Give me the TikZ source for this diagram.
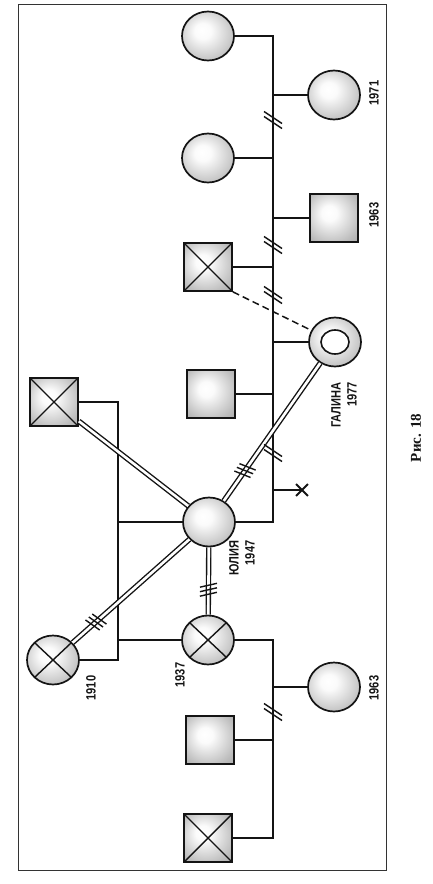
\documentclass[tikz,border=0pt]{standalone}
\usepackage{fontspec}
\newfontfamily\genfont[FakeStretch=0.82]{Liberation Sans}
\newfontfamily\capfont{Liberation Serif}
\usetikzlibrary{shapes.geometric,shapes.misc}
\definecolor{genInk}{HTML}{141414}
\definecolor{genShade}{HTML}{939393}
\definecolor{genFrame}{HTML}{333333}
\pgfdeclareradialshading{genball}{\pgfpoint{-6bp}{6bp}}{color(0bp)=(white); color(8bp)=(white!96!genShade); color(30bp)=(genShade!62); color(50bp)=(genShade)}
\tikzset{
  gen frame/.style={draw=genFrame, line width=1pt},
  gen link/.style={draw=genInk, line width=1.5pt},
  gen bond/.style={draw=genInk, line width=1.4pt, double=white, double distance=2.6pt},
  gen dash/.style={dash pattern=on 7pt off 4pt},
  gen person/.style={draw=genInk, line width=1.7pt, shade, shading=genball, inner sep=0pt},
  gen female/.style={gen person, ellipse, minimum width=52pt, minimum height=49pt},
  gen male/.style={gen person, rectangle, minimum size=48pt},
  gen dead/.style={path picture={
    \draw[genInk, line width=1.4pt] (path picture bounding box.north west) -- (path picture bounding box.south east)
      (path picture bounding box.north east) -- (path picture bounding box.south west);}},
  gen index/.style={path picture={
    \draw[genInk, line width=1.6pt, fill=white] (path picture bounding box.center) ellipse [x radius=14pt, y radius=12pt];}},
  gen loss/.style={cross out, draw=genInk, line width=1.8pt, minimum size=10pt, inner sep=0pt},
  gen label/.style={font=\genfont\bfseries\fontsize{13.5}{16}\selectfont, text=genInk, rotate=90, align=right, inner sep=0pt},
  gen caption/.style={font=\capfont\bfseries\fontsize{15}{17}\selectfont, text=genInk, rotate=90, inner sep=0pt},
  gen cut/.pic={
    \draw[gen link] (-9,-8.5) -- (9,3.5) (-9,-3.5) -- (9,8.5);
  },
  gen triple/.pic={
    \foreach \i in {-4.5,0,4.5}
      \draw[genInk, line width=1.4pt] (\i-2,-8.5) -- (\i+2,8.5);
  },
}

\begin{document}
\begin{tikzpicture}[x=1pt, y=-1pt]
  \useasboundingbox (0,0) rectangle (433,884);
  \draw[gen frame] (18.5,4) rectangle (386.5,870.5);
  % trunk columns
  \coordinate (trunkR) at (273,0);
  \coordinate (trunkL) at (118,0);
  % people
  \node[gen female] (sis1) at (208,36) {};
  \node[gen female] (f1971) at (334,95) {};
  \node[gen female] (sis2) at (208,158) {};
  \node[gen male] (m1963) at (334,218) {};
  \node[gen male, gen dead] (exman) at (208,267) {};
  \node[gen female, gen index] (galina) at (335,342) {};
  \node[gen male] (son) at (211,394) {};
  \node[gen male, gen dead] (grandpa) at (54,402) {};
  \node[gen female] (yulia) at (209,522) {};
  \node[gen female, gen dead] (f1910) at (53,660) {};
  \node[gen female, gen dead] (f1937) at (208,640) {};
  \node[gen female] (f1963) at (334,687) {};
  \node[gen male] (uncle) at (210,740) {};
  \node[gen male, gen dead] (uncle2) at (208,838) {};
  \node[gen loss] (loss) at (302,490) {};
  % labels
  \node[gen label] (t1971) at (374,93) {1971};
  \node[gen label] (t1963a) at (374,215) {1963};
  \node[gen label] (tgalina) at (344,405) {ГАЛИНА\\1977};
  \node[gen label] (tyulia) at (242,558) {ЮЛИЯ\\1947};
  \node[gen label] (t1910) at (91,688) {1910};
  \node[gen label] (t1937) at (180,675) {1937};
  \node[gen label] (t1963b) at (374,688) {1963};
  \node[gen caption] (cap) at (416,438) {Рис. 18};
  % sibling lines
  \draw[gen link] (sis1.east) -- (sis1.east -| trunkR) -- (yulia.east -| trunkR) -- (yulia.east);
  \foreach \k in {sis2,exman,son,uncle}
    \draw[gen link] (\k.east) -- (\k.east -| trunkR);
  \foreach \k in {f1971,m1963,galina,f1963}
    \draw[gen link] (\k.west) -- (\k.west -| trunkR);
  \draw[gen link] (loss.center) -- (loss.center -| trunkR);
  \draw[gen link] (f1937.east) -- (f1937.east -| trunkR) -- (uncle2.east -| trunkR) -- (uncle2.east);
  \draw[gen link] (grandpa.east) -- (grandpa.east -| trunkL) -- (f1910.east -| trunkL) -- (f1910.east);
  \draw[gen link] (yulia.west) -- (yulia.west -| trunkL);
  \draw[gen link] (f1937.west) -- (f1937.west -| trunkL);
  \draw[gen link, gen dash] (exman.south east) -- (galina);
  % bonds
  \draw[gen bond] (yulia) -- (galina);
  \draw[gen bond] (yulia) -- (grandpa);
  \draw[gen bond] (yulia) -- (f1910);
  \draw[gen bond] (yulia) -- (f1937);
  % breaks
  \foreach \y in {120,245,295,453,712}
    \pic at (273,\y) {gen cut};
  \path (yulia) -- (galina) pic[pos=0.22, sloped] {gen triple};
  \path (yulia) -- (f1910) pic[pos=0.8, sloped] {gen triple};
  \path (yulia) -- (f1937) pic[pos=0.63, sloped] {gen triple};
\end{tikzpicture}
\end{document}
